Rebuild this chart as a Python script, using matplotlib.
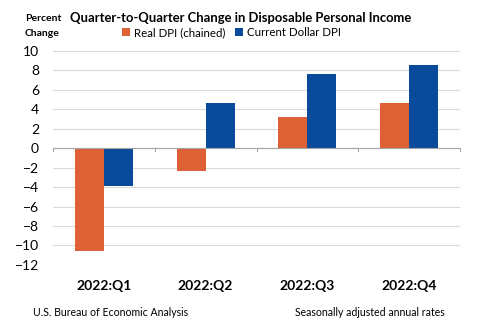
import matplotlib
matplotlib.use("Agg")
import matplotlib.pyplot as plt
import numpy as np

# Quarterly change in disposable personal income (percent, annual rate)
quarters = ["2022:Q1", "2022:Q2", "2022:Q3", "2022:Q4"]
real_dpi = [-10.6, -2.3, 3.2, 4.7]
current_dpi = [-3.9, 4.7, 7.6, 8.6]

orange = "#DD6135"
blue = "#0A4A9A"

plt.rcParams["font.family"] = ["Lato", "DejaVu Sans"]

fig = plt.figure(figsize=(5, 3.25), dpi=100)
ax = fig.add_axes([0.106, 0.185, 0.814, 0.658])

x = np.arange(len(quarters))
w = 0.285
ax.bar(x - w / 2, real_dpi, w, color=orange, label="Real DPI (chained)", zorder=3)
ax.bar(x + w / 2, current_dpi, w, color=blue, label="Current Dollar DPI", zorder=3)

ax.set_xlim(-0.5, len(quarters) - 0.5)
ax.set_ylim(-12, 10)
ax.set_yticks(range(-12, 11, 2))
ax.tick_params(axis="y", length=0, labelsize=10, pad=10)
ax.grid(axis="y", color="#d9d9d9", linewidth=0.8, zorder=0)
for s in ["top", "right", "left", "bottom"]:
    ax.spines[s].set_visible(False)

# zero axis line with category dividers
ax.axhline(0, color="#a6a6a6", linewidth=0.8, zorder=4)
for b in np.arange(-0.5, len(quarters)):
    ax.plot([b, b], [0, -0.25], color="#a6a6a6", linewidth=0.8, zorder=4, clip_on=False)

ax.set_xticks(x)
ax.set_xticklabels(quarters, fontweight="bold", fontsize=10)
ax.tick_params(axis="x", length=0, pad=11)

fig.text(0.482, 0.945, "Quarter-to-Quarter Change in Disposable Personal Income",
         ha="center", va="center", fontsize=9.4, fontweight="bold")
fig.text(0.05, 0.943, "Percent", ha="left", va="center", fontsize=7.5, fontweight="bold")
fig.text(0.05, 0.896, "Change", ha="left", va="center", fontsize=7.5, fontweight="bold")

fig.legend(loc="center", bbox_to_anchor=(0.463, 0.899), ncol=2, frameon=False,
           fontsize=8.3, handlelength=0.7, handleheight=0.7, handletextpad=0.3,
           columnspacing=0.9)

fig.text(0.066, 0.037, "U.S. Bureau of Economic Analysis", ha="left", va="center", fontsize=7.6)
fig.text(0.89, 0.037, "Seasonally adjusted annual rates", ha="right", va="center", fontsize=7.6)

fig.savefig("out.png", dpi=100)
